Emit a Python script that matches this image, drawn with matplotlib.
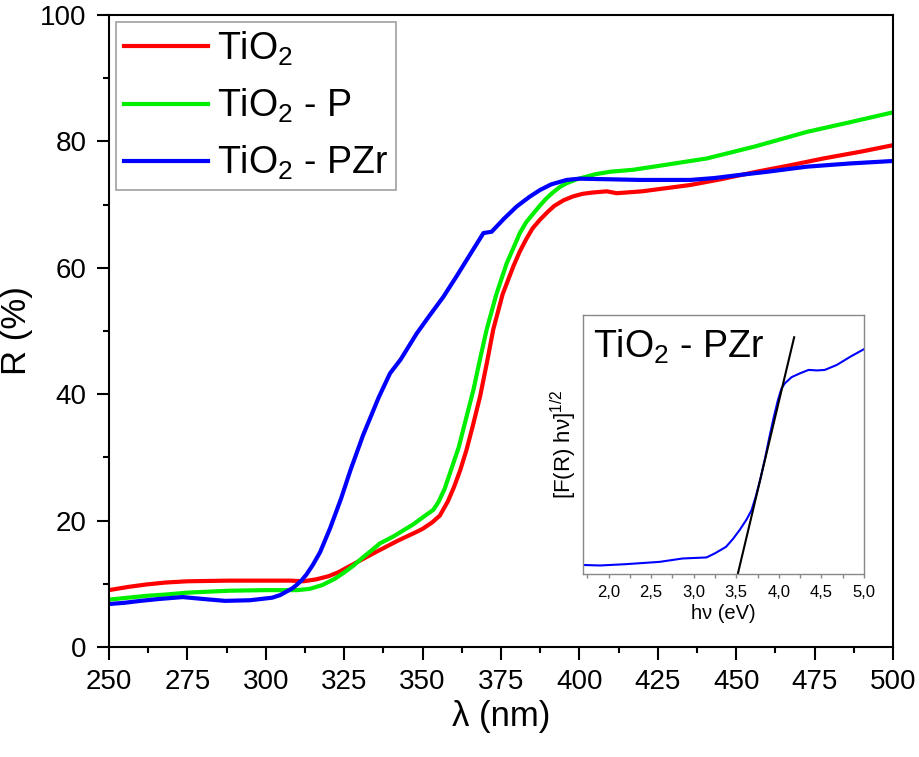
import numpy as np
import matplotlib
matplotlib.use('Agg')
import matplotlib.pyplot as plt

plt.rcParams['font.family'] = ['Liberation Sans', 'DejaVu Sans']
plt.rcParams['mathtext.fontset'] = 'custom'
plt.rcParams['mathtext.rm'] = 'Liberation Sans'
plt.rcParams['mathtext.it'] = 'Liberation Sans'

# main reflectance spectra (wavelength nm, R %)
wl_tio2 = [250, 256, 262, 268, 275, 288, 300, 308, 312, 316, 320, 323, 326, 329, 332, 335, 338.5, 342, 345, 348, 350, 353,
           355.5, 358, 360, 362, 364, 366, 368.3, 370.5, 372.5, 375.5, 378.9, 381, 383, 385, 387.4, 390, 392, 395, 398, 401,
           404, 408.7, 411.9, 420, 435.3, 445, 456.5, 467, 477.8, 490, 500]
r_tio2 = [9.0, 9.5, 9.9, 10.2, 10.4, 10.5, 10.5, 10.5, 10.4, 10.7, 11.2, 11.8, 12.6, 13.4, 14.2, 15.0, 15.9, 16.8, 17.5, 18.2,
          18.7, 19.7, 20.8, 23.0, 25.3, 28.0, 31.2, 35.0, 39.6, 45.0, 50.2, 55.8, 60.2, 62.6, 64.5, 66.2, 67.6, 68.9, 69.8, 70.7,
          71.3, 71.7, 71.9, 72.1, 71.8, 72.1, 73.1, 74.0, 75.2, 76.2, 77.3, 78.4, 79.4]

wl_p = [250, 256, 262, 268, 275, 288, 300, 310, 314, 318, 322, 325, 328, 331, 334, 336.4, 340.7, 344, 347, 350, 353.4, 355,
        357, 359.8, 361.5, 363, 366.2, 368.5, 370.4, 373.5, 376.8, 379, 381, 383, 385.3, 387.5, 389.5, 391.5, 393.8, 396,
        399.1, 405, 409.8, 417, 425, 440.6, 456, 472.5, 486, 500]
r_p = [7.5, 7.8, 8.1, 8.3, 8.6, 8.9, 9.0, 9.0, 9.2, 9.8, 10.8, 11.8, 12.9, 14.2, 15.4, 16.4, 17.5, 18.5, 19.4, 20.5, 21.7,
       22.9, 25.0, 29.1, 31.6, 34.5, 40.7, 46.0, 50.2, 55.8, 60.7, 63.2, 65.5, 67.2, 68.6, 69.9, 71.0, 71.9, 72.8, 73.4, 74.0,
       74.8, 75.2, 75.5, 76.1, 77.3, 79.2, 81.5, 83.0, 84.6]

wl_pzr = [250, 255, 260, 266, 273.5, 280, 287, 295, 302, 304.5, 306.7, 308.5, 310, 311.5, 313, 315, 317.3, 320.5, 324, 327,
          331, 336, 339.6, 343, 348.1, 352, 356.6, 361, 365, 369.4, 372, 376, 380, 384, 387.4, 391, 395.9, 400, 410, 419.3,
          435.3, 443, 451.2, 460, 472.5, 486, 500]
r_pzr = [6.8, 7.0, 7.3, 7.6, 7.9, 7.6, 7.3, 7.4, 7.8, 8.2, 8.8, 9.3, 9.9, 10.6, 11.5, 13.0, 15.0, 18.8, 23.5, 28.0, 33.5,
         39.5, 43.3, 45.5, 49.6, 52.3, 55.4, 58.8, 62.0, 65.5, 65.7, 67.8, 69.7, 71.2, 72.3, 73.2, 73.9, 74.1, 74.0, 73.9,
         73.9, 74.2, 74.7, 75.2, 76.0, 76.5, 76.9]

# inset: Tauc plot for TiO2 - PZr
ev_inset = [1.7, 1.9, 2.2, 2.6, 2.87, 3.15, 3.25, 3.38, 3.46, 3.54, 3.62, 3.68, 3.73, 3.78, 3.84, 3.89, 3.94, 3.99, 4.03,
            4.07, 4.15, 4.25, 4.35, 4.45, 4.54, 4.68, 4.84, 5.0]
f_inset = [0.035, 0.033, 0.038, 0.047, 0.060, 0.064, 0.080, 0.105, 0.135, 0.170, 0.210, 0.247, 0.300, 0.363, 0.450, 0.530,
           0.605, 0.672, 0.715, 0.736, 0.760, 0.775, 0.788, 0.786, 0.788, 0.807, 0.839, 0.868]
fit_ev = [3.52, 4.18]
fit_f = [0.003, 0.914]

fig = plt.figure(figsize=(9.2, 7.57), dpi=100)
ax = fig.add_axes([0.1185, 0.1453, 0.8522, 0.8349])

ax.plot(wl_tio2, r_tio2, color='#ff0000', lw=3, label='TiO$_2$')
ax.plot(wl_p, r_p, color='#00ee00', lw=3, label='TiO$_2$ - P')
ax.plot(wl_pzr, r_pzr, color='#0000ff', lw=3, label='TiO$_2$ - PZr')

ax.set_xlim(250, 500)
ax.set_ylim(0, 100)
ax.set_xticks(np.arange(250, 501, 25))
ax.set_xticks(np.arange(262.5, 500, 25), minor=True)
ax.set_yticks(np.arange(0, 101, 20))
ax.set_yticks(np.arange(10, 100, 20), minor=True)
ax.tick_params(which='major', direction='out', length=9, width=1.5, labelsize=20, pad=7, top=False, right=False)
ax.tick_params(which='minor', direction='out', length=4.5, width=1.5, top=False, right=False)
for sp in ax.spines.values():
    sp.set_linewidth(1.5)
ax.set_xlabel('λ (nm)', fontsize=25)
ax.set_ylabel('R (%)', fontsize=25)
ax.xaxis.set_label_coords(0.5, -0.084)
ax.yaxis.set_label_coords(-0.097, 0.5)

leg = ax.legend(loc='upper left', fontsize=27, frameon=True, fancybox=False,
                edgecolor='#888888', handlelength=2.25, handletextpad=0.25,
                borderaxespad=0.19, labelspacing=0.5, borderpad=0.2)
leg.get_frame().set_linewidth(1.2)

ins = fig.add_axes([0.6337, 0.2417, 0.3054, 0.3422])
ins.plot(ev_inset, f_inset, color='#0000ff', lw=1.5)
ins.plot(fit_ev, fit_f, color='black', lw=1.5)
ins.set_xlim(1.7, 5.0)
ins.set_ylim(0, 1)
ins.set_xticks([2.0, 2.5, 3.0, 3.5, 4.0, 4.5, 5.0])
ins.set_xticklabels(['2,0', '2,5', '3,0', '3,5', '4,0', '4,5', '5,0'])
ins.set_xticks(np.arange(1.75, 5.0, 0.25), minor=True)
ins.set_yticks([])
ins.tick_params(which='both', direction='out', length=3, width=1, color='#888888', labelsize=12, pad=5)
for sp in ins.spines.values():
    sp.set_color('#888888')
    sp.set_linewidth(1)
ins.set_xlabel('hν (eV)', fontsize=14.5, labelpad=3)
ins.set_ylabel('[F(R) hν]$^{1/2}$', fontsize=16, labelpad=3)
ins.text(0.035, 0.95, 'TiO$_2$ - PZr', transform=ins.transAxes, fontsize=27, va='top', ha='left')

fig.savefig('out.png', dpi=100)
